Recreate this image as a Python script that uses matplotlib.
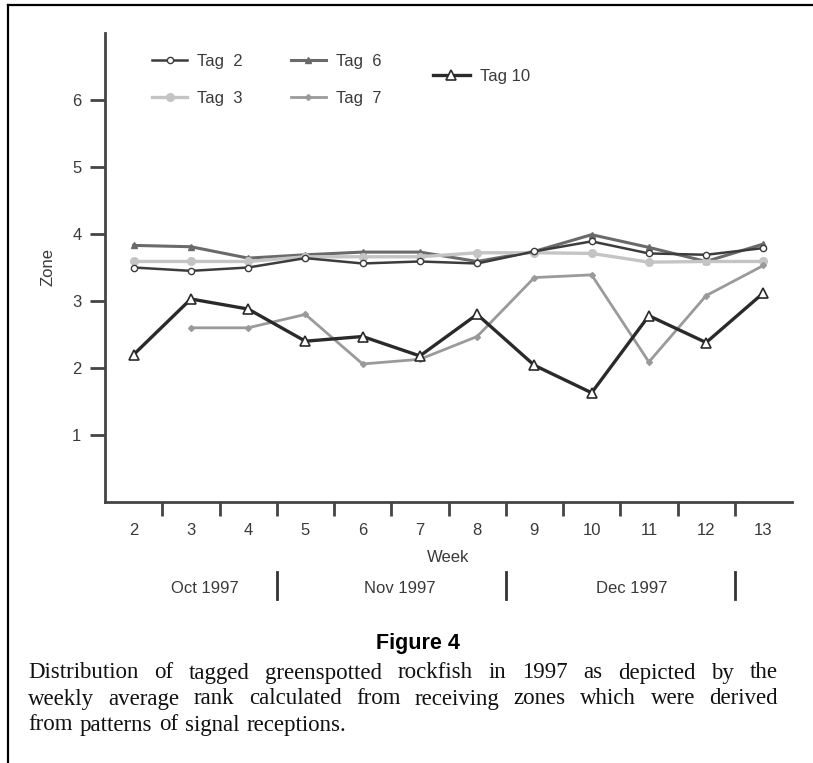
import matplotlib
matplotlib.use("Agg")
import matplotlib.pyplot as plt
from matplotlib.lines import Line2D
from matplotlib.transforms import blended_transform_factory

# weeks and weekly average zone per tag
weeks = [2, 3, 4, 5, 6, 7, 8, 9, 10, 11, 12, 13]
tag2 = [3.50, 3.45, 3.50, 3.64, 3.56, 3.59, 3.56, 3.74, 3.89, 3.71, 3.69, 3.79]
tag3 = [3.59, 3.59, 3.59, 3.66, 3.66, 3.66, 3.72, 3.72, 3.71, 3.58, 3.59, 3.59]
tag6 = [3.83, 3.81, 3.64, 3.69, 3.73, 3.73, 3.59, 3.74, 3.99, 3.80, 3.59, 3.85]
weeks7 = [3, 4, 5, 6, 7, 8, 9, 10, 11, 12, 13]
tag7 = [2.60, 2.60, 2.80, 2.06, 2.13, 2.47, 3.35, 3.39, 2.09, 3.08, 3.53]
tag10 = [2.20, 3.03, 2.88, 2.40, 2.47, 2.18, 2.80, 2.04, 1.63, 2.78, 2.38, 3.12]

month_labels = ["Oct 1997", "Nov 1997", "Dec 1997"]
month_centers = [3.25, 6.65, 10.7]
month_bounds = [4.5, 8.5, 12.5]

caption_title = "Figure 4"
caption_lines = [
    "Distribution of tagged greenspotted rockfish in 1997 as depicted by the",
    "weekly average rank calculated from receiving zones which were derived",
    "from patterns of signal receptions.",
]

W, H = 813, 763
FS = 12
plt.rcParams["font.family"] = ["Liberation Sans", "DejaVu Sans"]
txt = "#3a3a3a"

fig = plt.figure(figsize=(W / 100, H / 100), dpi=100)
ax = fig.add_axes([105 / W, 1 - 502 / H, (792 - 105) / W, (502 - 33) / H])

ax.plot(weeks, tag6, color="#6a6a6a", lw=2.2, marker="^", ms=5, mfc="#6a6a6a", mec="#6a6a6a", label="Tag  6")
ax.plot(weeks, tag3, color="#c4c4c4", lw=2.4, marker="o", ms=5.5, mfc="#c4c4c4", mec="#c4c4c4", label="Tag  3")
ax.plot(weeks, tag2, color="#3c3c3c", lw=1.8, marker="o", ms=4.5, mfc="white", mec="#3c3c3c", label="Tag  2")
ax.plot(weeks7, tag7, color="#9a9a9a", lw=2.0, marker="D", ms=3, mfc="#9a9a9a", mec="#9a9a9a", label="Tag  7")
ax.plot(weeks, tag10, color="#2a2a2a", lw=2.4, marker="^", ms=6.5, mfc="white", mec="#2a2a2a", mew=1.2, label="Tag 10")

ax.set_xlim(1.5, 13.5)
ax.set_ylim(0, 7)
ax.set_yticks([1, 2, 3, 4, 5, 6])
ax.set_xticks(weeks)
ax.set_xticks([w + 0.5 for w in weeks[:-1]], minor=True)
ax.tick_params(axis="x", which="major", length=0, pad=15, labelsize=FS, labelcolor=txt)
ax.tick_params(axis="x", which="minor", length=10, width=2, color="#444444", direction="out")
ax.tick_params(axis="y", length=11, width=2, color="#444444", pad=6, labelsize=FS, labelcolor=txt)
for s in ["top", "right"]:
    ax.spines[s].set_visible(False)
for s in ["left", "bottom"]:
    ax.spines[s].set_linewidth(2)
    ax.spines[s].set_color("#444444")

ax.set_xlabel("Week", fontsize=FS, color=txt, labelpad=9)
ax.set_ylabel("Zone", fontsize=FS, color=txt, labelpad=12)

# month strip under the week axis
tr = blended_transform_factory(ax.transData, ax.transAxes)
for lab, xc in zip(month_labels, month_centers):
    ax.text(xc, -0.184, lab, transform=tr, ha="center", va="center", fontsize=FS, color=txt)
for xb in month_bounds:
    ax.plot([xb, xb], [-0.149, -0.207], transform=tr, color="#333333", lw=2, clip_on=False)

# legends
h = {l.get_label(): l for l in ax.get_lines()}
leg1 = ax.legend([h["Tag  2"], h["Tag  3"], h["Tag  6"], h["Tag  7"]],
                 ["Tag  2", "Tag  3", "Tag  6", "Tag  7"], ncol=2, frameon=False,
                 loc="upper left", bbox_to_anchor=(152 / W, 1 - 54 / H), bbox_transform=fig.transFigure,
                 borderpad=0, borderaxespad=0, handlelength=2.1, handletextpad=0.6,
                 columnspacing=2.9, labelspacing=1.3, fontsize=FS, labelcolor=txt)
ax.add_artist(leg1)
ax.legend([h["Tag 10"]], ["Tag 10"], frameon=False, loc="upper left",
          bbox_to_anchor=(433 / W, 1 - 69 / H), bbox_transform=fig.transFigure,
          borderpad=0, borderaxespad=0, handlelength=2.2, handletextpad=0.6,
          fontsize=FS, labelcolor=txt)

# page frame (top and left rules)
fig.add_artist(Line2D([8 / W, 1], [1 - 5 / H, 1 - 5 / H], transform=fig.transFigure, color="black", lw=1.6))
fig.add_artist(Line2D([8 / W, 8 / W], [0, 1 - 5 / H], transform=fig.transFigure, color="black", lw=1.6))

# caption
fig.text(418 / W, 1 - 644 / H, caption_title, ha="center", va="center", fontsize=15.5,
         fontweight="bold", color="black")

fig.canvas.draw()
renderer = fig.canvas.get_renderer()
x0, x1 = 28, 778
ys = [673, 699, 725]
cfs = 16.5
for i, (line, yp) in enumerate(zip(caption_lines, ys)):
    words = line.split()
    tx = [fig.text(0, 1 - yp / H, w, fontsize=cfs, family="Liberation Serif", va="center", color="#111111")
          for w in words]
    widths = [t.get_window_extent(renderer).width for t in tx]
    if i < len(caption_lines) - 1:
        gap = (x1 - x0 - sum(widths)) / (len(words) - 1)
    else:
        gap = 7
    xp = x0
    for t, wd in zip(tx, widths):
        t.set_x(xp / W)
        xp += wd + gap

fig.savefig("out.png", dpi=100)
